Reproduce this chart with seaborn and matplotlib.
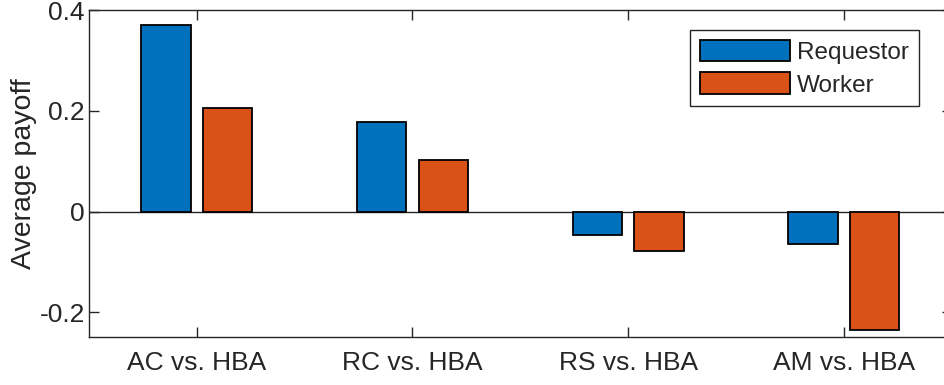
import matplotlib
matplotlib.use("Agg")
import matplotlib.pyplot as plt
import seaborn as sns
import pandas as pd

# Data
categories = ["AC vs. HBA", "RC vs. HBA", "RS vs. HBA", "AM vs. HBA"]
requestor = [0.371, 0.179, -0.046, -0.064]
worker = [0.205, 0.103, -0.078, -0.236]
roles = ["Requestor", "Worker"]
colors = ["#0072BD", "#D95319"]
yticks = [-0.2, 0, 0.2, 0.4]

df = pd.DataFrame({
    "pair": categories * 2,
    "payoff": requestor + worker,
    "role": [roles[0]] * len(categories) + [roles[1]] * len(categories),
})

sns.set_style("ticks")
plt.rcParams["font.family"] = ["Liberation Sans", "DejaVu Sans"]
axis_color = "#262626"

fig = plt.figure(figsize=(9.44, 3.85), dpi=100)
ax = fig.add_axes([0.0943, 0.1234, 0.9137, 0.850])

sns.barplot(data=df, x="pair", y="payoff", hue="role", palette=colors,
            saturation=1, width=0.572, gap=0.2, edgecolor="black",
            linewidth=1.3, errorbar=None, ax=ax, zorder=3)

ax.axhline(0, color=axis_color, linewidth=1.0, zorder=2)
ax.set_xlim(-0.5, len(categories) - 0.5)
ax.set_ylim(-0.25, 0.4)
ax.set_yticks(yticks)
ax.set_yticklabels(["-0.2", "0", "0.2", "0.4"])
ax.set_xlabel("")
ax.set_ylabel("Average payoff", fontsize=20.5, color=axis_color, labelpad=2)

for side in ["left", "right", "top", "bottom"]:
    ax.spines[side].set_visible(True)
    ax.spines[side].set_color(axis_color)
    ax.spines[side].set_linewidth(1.0)
ax.tick_params(axis="both", which="major", direction="in", length=7,
               width=1.0, color=axis_color, labelcolor=axis_color,
               labelsize=19, top=True, right=True)
ax.tick_params(axis="x", pad=10)
ax.tick_params(axis="y", pad=3)

leg = ax.legend(loc="upper right", bbox_to_anchor=(0.962, 0.94), fontsize=17.5,
                frameon=True, fancybox=False, handlelength=3.7,
                handleheight=1.0, handletextpad=0.3, labelspacing=0.35,
                borderpad=0.4, borderaxespad=0)
leg.get_frame().set_edgecolor(axis_color)
leg.get_frame().set_linewidth(1.0)
leg.get_frame().set_alpha(1)

fig.savefig("out.png", dpi=100)
